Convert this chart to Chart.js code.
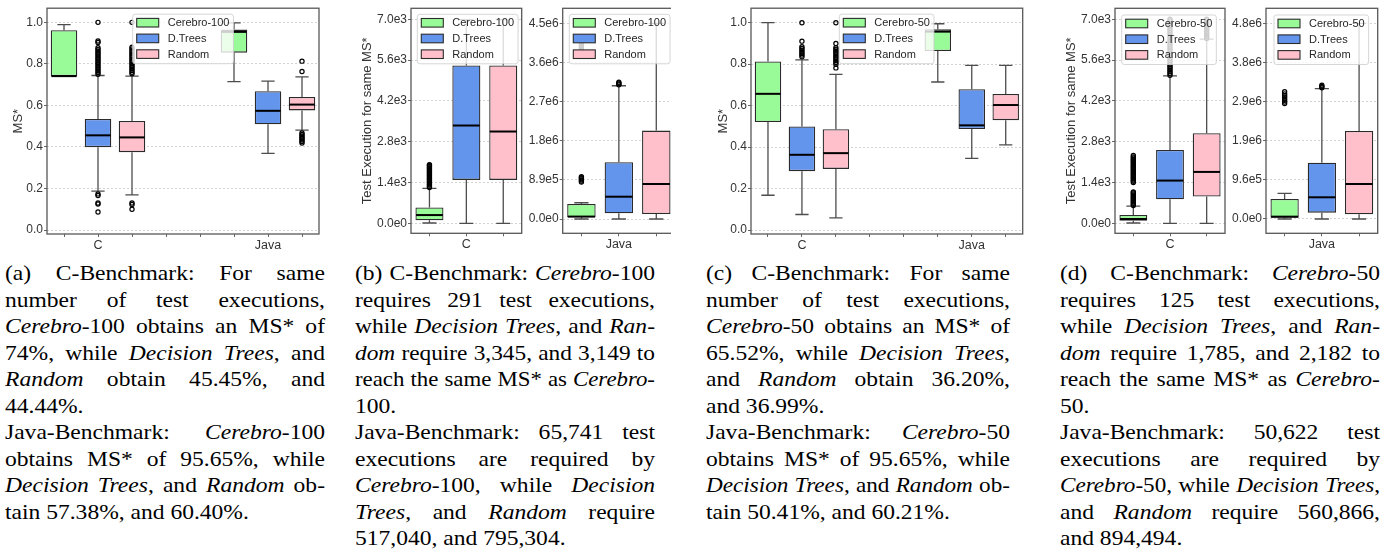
<!DOCTYPE html>
<html><head><meta charset="utf-8">
<script src="https://cdn.jsdelivr.net/npm/chart.js@4.4.1/dist/chart.umd.min.js"></script>
<style>
html,body{margin:0;padding:0;background:#fff;}
#page{position:relative;width:1395px;height:555px;overflow:hidden;background:#fff;}
.pane{position:absolute;top:0;overflow:hidden;}
.pane canvas{display:block;}
.cap{position:absolute;top:260px;font-family:"Liberation Serif","Times New Roman",serif;font-size:22px;line-height:26.5px;color:#000;}
.cap div{white-space:nowrap;}
</style>
</head><body>
<div id="page">
  <div class="pane" style="left:0px;width:335px;height:252px"><canvas id="ca" width="335" height="252" style="width:335px;height:252px"></canvas></div>
  <div class="pane" style="left:345px;width:185px;height:252px"><canvas id="cbl" width="185" height="252" style="width:185px;height:252px"></canvas></div>
  <div class="pane" style="left:525px;width:146px;height:252px"><canvas id="cbr" width="155" height="252" style="width:155px;height:252px"></canvas></div>
  <div class="pane" style="left:700px;width:335px;height:252px"><canvas id="cc" width="335" height="252" style="width:335px;height:252px"></canvas></div>
  <div class="pane" style="left:1045px;width:185px;height:252px"><canvas id="cdl" width="185" height="252" style="width:185px;height:252px"></canvas></div>
  <div class="pane" style="left:1230px;width:160px;height:252px"><canvas id="cdr" width="160" height="252" style="width:160px;height:252px"></canvas></div>

  <div class="cap" style="left:5px;width:320px">
    <div>(a) C-Benchmark: For same</div>
    <div>number of test executions,</div>
    <div><i>Cerebro</i>-100 obtains an MS* of</div>
    <div>74%, while <i>Decision Trees</i>, and</div>
    <div><i>Random</i> obtain 45.45%, and</div>
    <div class="l">44.44%.</div>
    <div>Java-Benchmark: <i>Cerebro</i>-100</div>
    <div>obtains MS* of 95.65%, while</div>
    <div><i>Decision Trees</i>, and <i>Random</i> ob-</div>
    <div class="l">tain 57.38%, and 60.40%.</div>
  </div>
  <div class="cap" style="left:355px;width:300px">
    <div>(b) C-Benchmark: <i>Cerebro</i>-100</div>
    <div>requires 291 test executions,</div>
    <div>while <i>Decision Trees</i>, and <i>Ran-</i></div>
    <div><i>dom</i> require 3,345, and 3,149 to</div>
    <div>reach the same MS* as <i>Cerebro</i>-</div>
    <div class="l">100.</div>
    <div>Java-Benchmark: 65,741 test</div>
    <div>executions are required by</div>
    <div><i>Cerebro</i>-100, while <i>Decision</i></div>
    <div><i>Trees</i>, and <i>Random</i> require</div>
    <div class="l">517,040, and 795,304.</div>
  </div>
  <div class="cap" style="left:706px;width:304px">
    <div>(c) C-Benchmark: For same</div>
    <div>number of test executions,</div>
    <div><i>Cerebro</i>-50 obtains an MS* of</div>
    <div>65.52%, while <i>Decision Trees</i>,</div>
    <div>and <i>Random</i> obtain 36.20%,</div>
    <div class="l">and 36.99%.</div>
    <div>Java-Benchmark: <i>Cerebro</i>-50</div>
    <div>obtains MS* of 95.65%, while</div>
    <div><i>Decision Trees</i>, and <i>Random</i> ob-</div>
    <div class="l">tain 50.41%, and 60.21%.</div>
  </div>
  <div class="cap" style="left:1060px;width:320px">
    <div>(d) C-Benchmark: <i>Cerebro</i>-50</div>
    <div>requires 125 test executions,</div>
    <div>while <i>Decision Trees</i>, and <i>Ran-</i></div>
    <div><i>dom</i> require 1,785, and 2,182 to</div>
    <div>reach the same MS* as <i>Cerebro</i>-</div>
    <div class="l">50.</div>
    <div>Java-Benchmark: 50,622 test</div>
    <div>executions are required by</div>
    <div><i>Cerebro</i>-50, while <i>Decision Trees</i>,</div>
    <div>and <i>Random</i> require 560,866,</div>
    <div class="l">and 894,494.</div>
  </div>
</div>
<script>
// ---------------- data ----------------
// every stats array: [lower whisker, Q1, median, Q3, upper whisker]
const seriesColors = ['#98fb98', '#6495ed', '#ffc0cb'];
const namesCerebro100 = ['Cerebro-100', 'D.Trees', 'Random'];
const namesCerebro50 = ['Cerebro-50', 'D.Trees', 'Random'];
const slotsBoth = ['', 'C', '', '', '', '', 'Java', ''];
const slotsC = ['', 'C', ''];
const slotsJava = ['', 'Java', ''];
const msTicks = [0, 0.2, 0.4, 0.6, 0.8, 1.0];
const msTickLabels = ['0.0', '0.2', '0.4', '0.6', '0.8', '1.0'];
const execCTicks = [0, 1400, 2800, 4200, 5600, 7000];
const execCTickLabels = ['0.0e0', '1.4e3', '2.8e3', '4.2e3', '5.6e3', '7.0e3'];
const execJava100Ticks = [0, 890000, 1780000, 2670000, 3560000, 4450000];
const execJava100TickLabels = ['0.0e0', '8.9e5', '1.8e6', '2.7e6', '3.6e6', '4.5e6'];
const execJava50Ticks = [0, 960000, 1920000, 2880000, 3840000, 4800000];
const execJava50TickLabels = ['0.0e0', '9.6e5', '1.9e6', '2.9e6', '3.8e6', '4.8e6'];

// (a) MS*, Cerebro-100
const aCerebro_C = [0.741, 0.741, 0.741, 0.962, 0.989];
const aDTrees_C = [0.187, 0.399, 0.456, 0.535, 0.744];
const aRandom_C = [0.169, 0.375, 0.446, 0.525, 0.741];
const aCerebro_Java = [0.715, 0.854, 0.954, 0.965, 0.997];
const aDTrees_Java = [0.369, 0.509, 0.574, 0.668, 0.717];
const aRandom_Java = [0.481, 0.576, 0.604, 0.641, 0.737];
const aDTrees_C_out = [1.0, 0.910, 0.903, 0.878, 0.870, 0.862, 0.854, 0.846, 0.838, 0.830, 0.822, 0.814, 0.806, 0.798, 0.790, 0.782, 0.774, 0.766, 0.758, 0.750, 0.174, 0.166, 0.130, 0.125, 0.087];
const aRandom_C_out = [1.0, 0.880, 0.872, 0.864, 0.856, 0.848, 0.840, 0.832, 0.824, 0.816, 0.808, 0.800, 0.792, 0.784, 0.776, 0.768, 0.760, 0.752, 0.130, 0.123, 0.100];
const aRandom_Java_out = [0.813, 0.763, 0.467, 0.460, 0.453, 0.446, 0.440, 0.433, 0.426, 0.419];

// (b) test executions, Cerebro-100
const bCerebro_C = [10, 102, 283, 546, 1195];
const bDTrees_C = [0, 1489, 3355, 5415, 6990];
const bRandom_C = [0, 1489, 3149, 5415, 6990];
const bCerebro_C_out = [1230, 1270, 1310, 1350, 1390, 1430, 1470, 1510, 1550, 1590, 1630, 1670, 1710, 1750, 1790, 1830, 1870, 1910, 1950, 1990, 2010];
const bCerebro_Java = [0, 38000, 55000, 341000, 370000];
const bDTrees_Java = [0, 130000, 507000, 1290000, 3030000];
const bRandom_Java = [0, 114000, 796000, 2010000, 4450000];
const bCerebro_Java_out = [840000, 865000, 890000, 915000, 940000, 960000, 3800000, 3830000, 3860000, 3890000, 3920000, 3950000, 3980000];
const bDTrees_Java_out = [3050000, 3070000, 3090000, 3110000];

// (c) MS*, Cerebro-50
const cCerebro_C = [0.168, 0.521, 0.657, 0.813, 1.0];
const cDTrees_C = [0.075, 0.284, 0.363, 0.500, 0.821];
const cRandom_C = [0.059, 0.295, 0.371, 0.486, 0.751];
const cCerebro_Java = [0.714, 0.863, 0.957, 0.968, 0.995];
const cDTrees_Java = [0.346, 0.487, 0.505, 0.679, 0.794];
const cRandom_Java = [0.411, 0.530, 0.603, 0.656, 0.794];
const cDTrees_C_out = [1.0, 0.911, 0.884, 0.876, 0.868, 0.860, 0.852, 0.844, 0.836];
const cRandom_C_out = [1.0, 0.900, 0.880, 0.872, 0.864, 0.856, 0.848, 0.840, 0.832, 0.824, 0.816, 0.808, 0.800, 0.782];

// (d) test executions, Cerebro-50
const dCerebro_C = [10, 89, 147, 283, 590];
const dDTrees_C = [0, 824, 1466, 2519, 5061];
const dRandom_C = [0, 916, 1763, 3092, 6320];
const dCerebro_C_out = [610, 650, 690, 730, 770, 810, 850, 890, 930, 970, 1010, 1050, 1080, 1400, 1440, 1480, 1520, 1560, 1600, 1640, 1680, 1720, 1760, 1800, 1840, 1880, 1920, 1960, 2000, 2040, 2080, 2120, 2160, 2200, 2240, 2280, 2330];
const dDTrees_C_out = [5080, 5140, 5200, 5260, 5320, 5380, 5440, 5500, 5580, 5660, 5740, 5820, 5900, 5980, 6060, 6140, 6220, 6300, 6380, 6460, 6540, 6620, 6700, 6780, 6860, 6940, 7000];
const dRandom_C_out = [6340, 6400, 6460, 6520, 6580, 6640, 6700, 6760, 6820, 6880, 6940, 7000];
const dCerebro_Java = [0, 33000, 57000, 490000, 630000];
const dDTrees_Java = [0, 155000, 532000, 1380000, 3200000];
const dRandom_Java = [0, 114000, 858000, 2160000, 4800000];
const dCerebro_Java_out = [2830000, 2870000, 2910000, 2950000, 2990000, 3030000, 3070000, 3120000];
const dDTrees_Java_out = [3220000, 3250000, 3280000];

// ---------------- captions: widen glyphs a little, justify each line ----------------
const CAP_SCALE = 1.07;
document.querySelectorAll('.cap').forEach(cap => {
  const W = parseFloat(cap.style.width);
  cap.querySelectorAll('div').forEach(line => {
    line.style.display = 'inline-block';
    const nat = line.getBoundingClientRect().width;
    line.style.display = '';
    const s = Math.min(CAP_SCALE, (W - 2) / nat);
    line.style.transformOrigin = '0 0';
    line.style.transform = 'scaleX(' + s + ')';
    if (line.classList.contains('l')) return;
    const words = [[]];
    Array.from(line.childNodes).forEach(node => {
      const italic = node.nodeType === 1;
      node.textContent.split(' ').forEach((p, i) => {
        if (i > 0) words.push([]);
        if (p) words[words.length - 1].push({ text: p, italic });
      });
    });
    line.innerHTML = '';
    line.style.display = 'flex';
    line.style.justifyContent = 'space-between';
    line.style.width = (W / s) + 'px';
    words.filter(w => w.length).forEach(w => {
      const span = document.createElement('span');
      w.forEach(f => {
        const el = document.createElement(f.italic ? 'i' : 'span');
        el.textContent = f.text;
        span.appendChild(el);
      });
      line.appendChild(span);
    });
  });
});

// ---------------- drawing ----------------
const FONT = '"Liberation Sans", Arial, sans-serif';

function boxChart(id, cfg) {
  const labels = cfg.slots;
  const statsBy = [], outsBy = [];
  const datasets = cfg.names.map((name, s) => {
    const data = labels.map(() => null);
    statsBy[s] = labels.map(() => null);
    outsBy[s] = labels.map(() => null);
    cfg.groups.forEach((g, gi) => {
      const k = labels.indexOf(g) - 1 + s;
      const st = cfg.stats[s][gi];
      data[k] = [st[1], st[3]];
      statsBy[s][k] = st;
      outsBy[s][k] = cfg.outliers[s][gi] || [];
    });
    return {
      label: name, data,
      backgroundColor: seriesColors[s], borderColor: '#2b2b2b', borderWidth: 1.3,
      borderSkipped: false, grouped: false, barPercentage: cfg.barPct, categoryPercentage: 1
    };
  });

  const plugin = {
    id: 'boxplot_' + id,
    beforeDatasetsDraw(chart) {
      const ctx = chart.ctx, y = chart.scales.y;
      ctx.save();
      ctx.strokeStyle = '#4d4d4d';
      ctx.lineWidth = 1.3;
      datasets.forEach((ds, s) => {
        chart.getDatasetMeta(s).data.forEach((el, k) => {
          const st = statsBy[s][k];
          if (!st) return;
          const x = el.x, hw = el.width / 4;
          const pLo = y.getPixelForValue(st[0]), pQ1 = y.getPixelForValue(st[1]);
          const pQ3 = y.getPixelForValue(st[3]), pHi = y.getPixelForValue(st[4]);
          ctx.beginPath();
          ctx.moveTo(x, pLo); ctx.lineTo(x, pQ1);
          ctx.moveTo(x, pQ3); ctx.lineTo(x, pHi);
          ctx.moveTo(x - hw, pLo); ctx.lineTo(x + hw, pLo);
          ctx.moveTo(x - hw, pHi); ctx.lineTo(x + hw, pHi);
          ctx.stroke();
        });
      });
      ctx.restore();
    },
    afterDatasetsDraw(chart) {
      const ctx = chart.ctx, y = chart.scales.y;
      ctx.save();
      datasets.forEach((ds, s) => {
        chart.getDatasetMeta(s).data.forEach((el, k) => {
          const st = statsBy[s][k];
          if (!st) return;
          const x = el.x, w = el.width;
          ctx.strokeStyle = '#000';
          ctx.lineWidth = 2;
          const pm = y.getPixelForValue(st[2]);
          ctx.beginPath();
          ctx.moveTo(x - w / 2 + 0.6, pm); ctx.lineTo(x + w / 2 - 0.6, pm);
          ctx.stroke();
          ctx.lineWidth = 1.2;
          outsBy[s][k].forEach(v => {
            ctx.beginPath();
            ctx.arc(x, y.getPixelForValue(v), 2.1, 0, Math.PI * 2);
            ctx.stroke();
          });
        });
      });
      ctx.restore();
    },
    afterDraw(chart) {
      const ctx = chart.ctx, ca = chart.chartArea;
      ctx.save();
      // axes frame
      ctx.strokeStyle = '#585858';
      ctx.lineWidth = 1.3;
      ctx.strokeRect(ca.left, ca.top, ca.right - ca.left, ca.bottom - ca.top);
      // legend
      ctx.font = '11px ' + FONT;
      const tw = Math.max(...cfg.names.map(n => ctx.measureText(n).width));
      const lx = ca.left + cfg.legend.dx, ly = ca.top + cfg.legend.dy;
      const lw = 35 + tw + 4, lh = 49.5;
      ctx.beginPath();
      ctx.roundRect(lx, ly, lw, lh, 2.5);
      ctx.fillStyle = 'rgba(255,255,255,0.8)';
      ctx.fill();
      ctx.strokeStyle = 'rgba(204,204,204,0.8)';
      ctx.lineWidth = 1;
      ctx.stroke();
      cfg.names.forEach((n, i) => {
        const ry = ly + 8.5 + i * 15.7;
        ctx.fillStyle = seriesColors[i];
        ctx.fillRect(lx + 4, ry - 4.3, 22, 8.6);
        ctx.strokeStyle = '#2b2b2b';
        ctx.lineWidth = 1.1;
        ctx.strokeRect(lx + 4, ry - 4.3, 22, 8.6);
        ctx.fillStyle = '#262626';
        ctx.textBaseline = 'middle';
        ctx.textAlign = 'left';
        ctx.fillText(n, lx + 35, ry + 0.5);
      });
      ctx.restore();
    }
  };

  return new Chart(document.getElementById(id), {
    type: 'bar',
    data: { labels, datasets },
    options: {
      responsive: false, animation: false, devicePixelRatio: 1,
      layout: { padding: { left: 0, top: cfg.pt, right: cfg.pr, bottom: 0 } },
      plugins: { legend: { display: false }, tooltip: { enabled: false } },
      scales: {
        x: {
          type: 'category', offset: true,
          grid: { display: true, drawOnChartArea: false, drawTicks: true, tickLength: 3, tickColor: '#666', offset: false },
          border: { display: false },
          ticks: { autoSkip: false, maxRotation: 0, minRotation: 0, padding: 1, color: '#333', font: { family: FONT, size: 12.5 } },
          afterFit: sc => { sc.height = cfg.xh; }
        },
        y: {
          type: 'linear', min: cfg.yMin, max: cfg.yMax,
          afterBuildTicks: sc => { sc.ticks = cfg.yTicks.map(v => ({ value: v })); },
          grid: { color: '#d2d2d2', lineWidth: 1, drawTicks: true, tickLength: 3, tickColor: '#666', tickBorderDash: [] },
          border: { display: false, dash: [2, 2] },
          ticks: { color: '#333', padding: 1, font: { family: FONT, size: 12 }, callback: (v, i) => cfg.yTickLabels[i] },
          title: { display: !!cfg.yTitle, text: cfg.yTitle || '', color: '#333', font: { family: FONT, size: 13 }, padding: { top: cfg.titlePad || 0, bottom: 0 } },
          afterFit: sc => { sc.width = cfg.yw; }
        }
      }
    },
    plugins: [plugin]
  });
}

boxChart('ca', {
  slots: slotsBoth, groups: ['C', 'Java'], names: namesCerebro100,
  stats: [[aCerebro_C, aCerebro_Java], [aDTrees_C, aDTrees_Java], [aRandom_C, aRandom_Java]],
  outliers: [[[], []], [aDTrees_C_out, []], [aRandom_C_out, aRandom_Java_out]],
  yMin: -0.019, yMax: 1.068, yTicks: msTicks, yTickLabels: msTickLabels, yTitle: 'MS*', titlePad: 10.2,
  yw: 47, pt: 5, pr: 16, xh: 18, barPct: 0.78, legend: { dx: 85.7, dy: 6 }
});
boxChart('cbl', {
  slots: slotsC, groups: ['C'], names: namesCerebro100,
  stats: [[bCerebro_C], [bDTrees_C], [bRandom_C]],
  outliers: [[bCerebro_C_out], [[]], [[]]],
  yMin: -343, yMax: 7377, yTicks: execCTicks, yTickLabels: execCTickLabels, yTitle: 'Test Execution for same MS*', titlePad: 14.7,
  yw: 66, pt: 8.3, pr: 8.3, xh: 18.7, barPct: 0.76, legend: { dx: 6.3, dy: 6 }
});
boxChart('cbr', {
  slots: slotsJava, groups: ['Java'], names: namesCerebro100,
  stats: [[bCerebro_Java], [bDTrees_Java], [bRandom_Java]],
  outliers: [[bCerebro_Java_out], [bDTrees_Java_out], [[]]],
  yMin: -325000, yMax: 4791000, yTicks: execJava100Ticks, yTickLabels: execJava100TickLabels,
  yw: 37.7, pt: 8.3, pr: 5, xh: 18.7, barPct: 0.76, legend: { dx: 6.6, dy: 6 }
});
boxChart('cc', {
  slots: slotsBoth, groups: ['C', 'Java'], names: namesCerebro50,
  stats: [[cCerebro_C, cCerebro_Java], [cDTrees_C, cDTrees_Java], [cRandom_C, cRandom_Java]],
  outliers: [[[], []], [cDTrees_C_out, []], [cRandom_C_out, []]],
  yMin: -0.019, yMax: 1.07, yTicks: msTicks, yTickLabels: msTickLabels, yTitle: 'MS*', titlePad: 15.2,
  yw: 51, pt: 5, pr: 12.3, xh: 18, barPct: 0.78, legend: { dx: 88.3, dy: 6 }
});
boxChart('cdl', {
  slots: slotsC, groups: ['C'], names: namesCerebro50,
  stats: [[dCerebro_C], [dDTrees_C], [dRandom_C]],
  outliers: [[dCerebro_C_out], [dDTrees_C_out], [dRandom_C_out]],
  yMin: -343, yMax: 7377, yTicks: execCTicks, yTickLabels: execCTickLabels, yTitle: 'Test Execution for same MS*', titlePad: 18.2,
  yw: 70, pt: 8.3, pr: 5, xh: 18.7, barPct: 0.76, legend: { dx: 6.7, dy: 6.7 }
});
boxChart('cdr', {
  slots: slotsJava, groups: ['Java'], names: namesCerebro50,
  stats: [[dCerebro_Java], [dDTrees_Java], [dRandom_Java]],
  outliers: [[dCerebro_Java_out], [dDTrees_Java_out], [[]]],
  yMin: -351000, yMax: 5168000, yTicks: execJava50Ticks, yTickLabels: execJava50TickLabels,
  yw: 36, pt: 8.3, pr: 12.3, xh: 18.7, barPct: 0.76, legend: { dx: 8, dy: 6.7 }
});
</script>
</body></html>
